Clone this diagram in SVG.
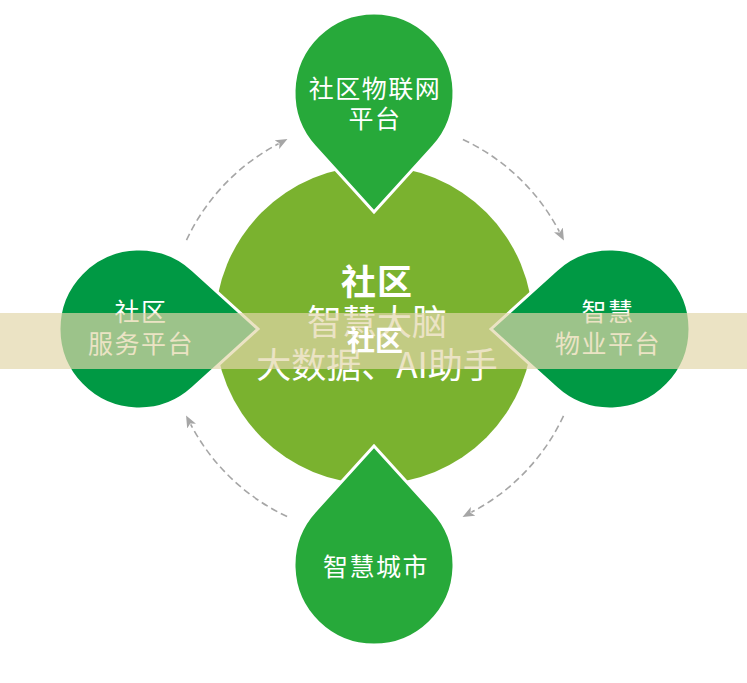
<svg xmlns="http://www.w3.org/2000/svg" width="747" height="683" viewBox="0 0 747 683">
  <style>
    .conn { fill: none; stroke: #a6a6a6; stroke-width: 1.6; stroke-dasharray: 7 4; }
    .drop { stroke: #ffffff; stroke-width: 3; stroke-linejoin: miter; }
    .g1 { fill: #27a93a; }
    .g2 { fill: #009944; }
    .lbl { font-family: "Noto Sans CJK SC", "Noto Sans", sans-serif; fill: #ffffff; text-anchor: middle; }
    .drop-t { font-size: 25px; letter-spacing: 1.5px; }
    .big { font-size: 35px; }
    .bold { font-weight: bold; }
  </style>
  <defs>
    <marker id="arr" viewBox="0 0 12 10" refX="2" refY="5" markerWidth="12" markerHeight="10" markerUnits="userSpaceOnUse" orient="auto">
      <path d="M0 0 L12 5 L0 10 L3 5 Z" fill="#a6a6a6"/>
    </marker>
  </defs>
  <rect width="747" height="683" fill="#ffffff"/>

  <g id="connectors">
    <path class="conn" d="M186.5 240.1 A208 208 0 0 1 278.6 143.7" marker-end="url(#arr)"/>
    <path class="conn" d="M462.9 139.5 A208 208 0 0 1 559.3 231.6" marker-end="url(#arr)"/>
    <path class="conn" d="M563.5 415.9 A208 208 0 0 1 471.4 512.3" marker-end="url(#arr)"/>
    <path class="conn" d="M287.1 516.5 A208 208 0 0 1 190.7 424.4" marker-end="url(#arr)"/>
  </g>

  <g id="center">
    <circle cx="374" cy="325" r="159" fill="#7ab22f"/>
  </g>

  <g id="node-top">
    <path class="drop g1" d="M374 212 L314.8 146.8 A80 80 0 1 1 433.2 146.8 Z"/>
    <text class="lbl drop-t" x="375" y="98">社区物联网</text>
    <text class="lbl drop-t" x="375" y="128">平台</text>
  </g>

  <g id="node-bottom">
    <path class="drop g1" d="M374 446 L433.2 511.2 A80 80 0 1 1 314.8 511.2 Z"/>
    <text class="lbl drop-t" x="376" y="576">智慧城市</text>
  </g>

  <g id="node-left">
    <path class="drop g2" d="M258 329 L192.8 388.2 A80 80 0 1 1 192.8 269.8 Z"/>
    <text class="lbl drop-t" x="141" y="321">社区</text>
    <text class="lbl drop-t" x="141" y="353">服务平台</text>
  </g>

  <g id="node-right">
    <path class="drop g2" d="M491 329 L556.2 269.8 A80 80 0 1 1 556.2 388.2 Z"/>
    <text class="lbl drop-t" x="608" y="321">智慧</text>
    <text class="lbl drop-t" x="608" y="353">物业平台</text>
  </g>

  <g id="center-text">
    <text class="lbl big" x="377" y="335">智慧大脑</text>
    <text class="lbl big" x="377" y="378">大数据、AI助手</text>
  </g>

  <rect id="band" x="0" y="313" width="747" height="56" fill="#e2d6a9" fill-opacity="0.69"/>

  <g id="center-title">
    <text class="lbl big bold" x="377" y="295" font-size="34" letter-spacing="1">社区</text>
    <text class="lbl bold" x="375" y="351" font-size="28">社区</text>
  </g>
</svg>
